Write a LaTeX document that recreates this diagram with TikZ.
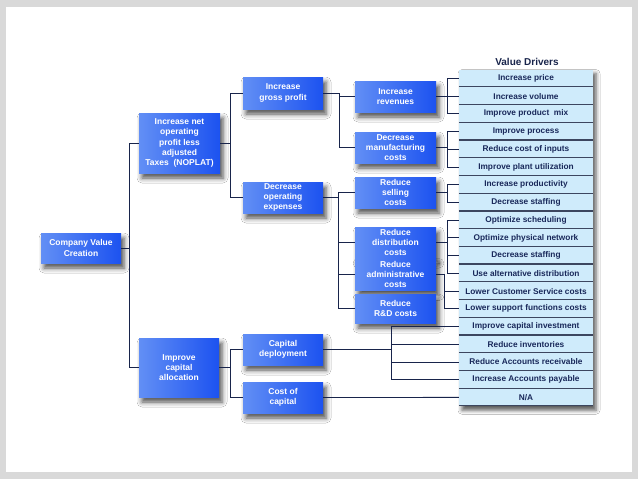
\documentclass[tikz,border=0pt]{standalone}
\usepackage{fontspec}
\setmainfont{Liberation Sans}
\usetikzlibrary{shadows.blur}
\definecolor{navy}{RGB}{24,36,75}
\definecolor{bleft}{RGB}{98,143,245}
\definecolor{bright}{RGB}{28,82,240}
\definecolor{drvfill}{RGB}{207,235,251}
\definecolor{drvtext}{RGB}{25,40,90}
\definecolor{drvline}{RGB}{60,70,95}
\definecolor{framegray}{RGB}{217,217,217}
\tikzset{
 bbox/.style={rectangle, inner sep=0pt, left color=bleft, right color=bright, text=white,
   font=\bfseries\fontsize{8.5}{10.3}\selectfont, align=center,
   blur shadow={shadow xshift=3pt, shadow yshift=-5pt, shadow blur radius=5pt, shadow opacity=70}},
 drv/.style={rectangle, inner sep=0pt, fill=drvfill, text=drvtext,
   font=\bfseries\fontsize{8.3}{9}\selectfont, minimum width=134pt, minimum height=17.72pt},
 conn/.style={draw=navy, line width=0.8pt},
}
\begin{document}
\begin{tikzpicture}[x=1pt,y=-1pt]
\fill[framegray] (0,0) rectangle (638,479);
\fill[white] (6,7) rectangle (632,472);
\useasboundingbox (0,0) rectangle (638,479);

% blue boxes
\node[bbox, minimum width=80pt, minimum height=30pt] (cvc) at (81,248) {Company Value\\Creation};
\node[bbox, minimum width=81pt, minimum height=60pt] (nop) at (179.5,143) {Increase net\\operating\\profit less\\adjusted\\Taxes\ \ (NOPLAT)};
\node[bbox, minimum width=80pt, minimum height=59pt] (ica) at (179,367.5) {Improve\\capital\\allocation};
\node[bbox, minimum width=80pt, minimum height=32pt] (igp) at (283,93) {Increase\\gross profit};
\node[bbox, minimum width=80pt, minimum height=31pt, font=\bfseries\fontsize{8.5}{10}\selectfont] (doe) at (283,197.5) {Decrease\\operating\\expenses};
\node[bbox, minimum width=80pt, minimum height=31pt] (cd) at (283,349.5) {Capital\\deployment};
\node[bbox, minimum width=80pt, minimum height=31pt] (coc) at (283,397.5) {Cost of\\capital};
\node[bbox, minimum width=81pt, minimum height=31pt] (ir) at (395.5,96.5) {Increase\\revenues};
\node[bbox, minimum width=81pt, minimum height=31pt, font=\bfseries\fontsize{8.5}{10}\selectfont] (dmc) at (395.5,147.5) {Decrease\\manufacturing\\costs};
\node[bbox, minimum width=81pt, minimum height=31pt, font=\bfseries\fontsize{8.5}{10}\selectfont] (rsc) at (395.5,192.5) {Reduce\\selling\\costs};
\node[bbox, minimum width=81pt, minimum height=31pt, font=\bfseries\fontsize{8.5}{10}\selectfont] (rdc) at (395.5,242.5) {Reduce\\distribution\\costs};
\node[bbox, minimum width=81pt, minimum height=32pt, font=\bfseries\fontsize{8.5}{10}\selectfont] (rac) at (395.5,274.5) {Reduce\\administrative\\costs};
\node[bbox, minimum width=81pt, minimum height=29pt] (rrd) at (395.5,308.5) {Reduce\\R\&D costs};

% value drivers column
\node[font=\bfseries\fontsize{10}{12}\selectfont, text=navy] (title) at (527,62) {Value Drivers};
\node[rectangle, fill=drvfill, minimum width=134pt, minimum height=336.7pt,
  blur shadow={shadow xshift=3pt, shadow yshift=-4pt, shadow blur radius=4pt, shadow opacity=65}] (col) at (526,237.9) {};
\foreach \t [count=\i] in {Increase price, Increase volume, Improve product\ \ mix, Improve process,
  Reduce cost of inputs, Improve plant utilization, Increase productivity, Decrease staffing,
  Optimize scheduling, Optimize physical network, Decrease staffing, Use alternative distribution,
  Lower Customer Service costs, Lower support functions costs, Improve capital investment,
  Reduce inventories, Reduce Accounts receivable, Increase Accounts payable, N/A}
  {\node[drv] (d\i) at (526,{78.4+17.72*(\i-1)}) {\t};}
\foreach \i in {1,...,19}
  {\draw[drvline, line width=1.2pt] ([yshift=0.6pt]d\i.south west) -- ([yshift=0.6pt]d\i.south east);}

% connectors
\draw[conn] (cvc.east) -- ++(9,0);
\draw[conn] (nop.west) -- ++(-9,0) |- (ica.west);
\draw[conn] (nop.east) -- ++(11,0);
\draw[conn] (igp.west) -- ++(-12,0) |- (doe.west);
\draw[conn] (ica.east) -- ++(12,0);
\draw[conn] (cd.west) -- ++(-12,0) |- (coc.west);
\draw[conn] (igp.east) -- ++(16,0) |- (dmc.west);
\draw[conn] (igp.east) ++(16,0) |- (ir.west);
\draw[conn] (doe.east) -- ++(16,0);
\draw[conn] (rsc.west) -- ++(-16,0) |- (rrd.west);
\draw[conn] (rdc.west) -- ++(-16,0);
\draw[conn] (rac.west) -- ++(-16,0);
\draw[conn] (ir.east) -- ++(12,0);
\draw[conn] (d1.west) -- ++(-11,0) |- (d3.west);
\draw[conn] (d2.west) -- ++(-11,0);
\draw[conn] (dmc.east) -- ++(12,0);
\draw[conn] (d4.west) -- ++(-11,0) |- (d6.west);
\draw[conn] (d5.west) -- ++(-11,0);
\draw[conn] (rsc.east) -- ++(12,0);
\draw[conn] (d7.west) -- ++(-11,0) |- (d8.west);
\draw[conn] (rdc.east) -- ++(12,0);
\draw[conn] (d9.west) -- ++(-11,0) |- (d12.west);
\draw[conn] (d10.west) -- ++(-11,0);
\draw[conn] (d11.west) -- ++(-11,0);
\draw[conn] (d13.west) -- ++(-14,0);
\draw[conn] (d14.west) -- ++(-14,0) |- (rac.east);
\draw[conn] (cd.east) -- ++(69,0);
\draw[conn] (d15.west) -- ++(-67,0) |- (d18.west);
\draw[conn] (d16.west) -- ++(-67,0);
\draw[conn] (d17.west) -- ++(-67,0);
\draw[conn] (coc.east) -- (d19.west);
\end{tikzpicture}
\end{document}
